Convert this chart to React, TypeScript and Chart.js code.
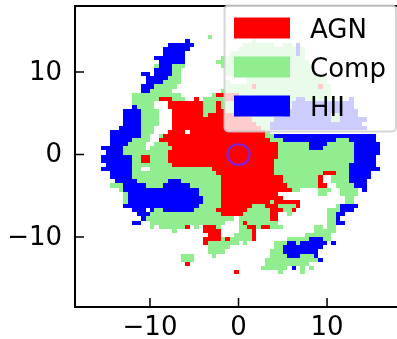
import React, { useEffect, useRef } from "react";
import { Chart, registerables } from "chart.js";

Chart.register(...registerables);

// Spaxel runs: [row, firstColumn, endColumn), one row/column = 0.5 axis units.
const agnRuns: number[][] = [
  [17,3,4],[17,18,19],[15,-5,0],[14,-18,-15],[14,-10,-9],[14,-3,0],[13,-16,-8],[13,-5,-4],[12,-16,-8],[12,-5,-4],
  [11,-15,-8],[11,-5,-3],[10,-15,-8],[10,-7,2],[9,-15,3],[8,-15,4],[7,-15,5],[6,-16,-12],[6,-11,6],[5,-17,6],
  [4,-18,7],[3,-16,9],[2,-15,9],[1,-16,9],[0,-22,-20],[0,-16,9],[-1,-22,-20],[-1,-16,8],[-2,-15,8],[-3,-6,8],
  [-4,-5,8],[-4,19,22],[-5,-4,10],[-5,18,19],[-6,-4,10],[-6,18,19],[-7,-4,11],[-7,18,20],[-8,-4,12],[-9,-4,9],
  [-10,-4,10],[-11,-4,7],[-11,8,14],[-12,-4,3],[-12,6,9],[-12,13,14],[-13,-5,2],[-13,7,10],[-13,12,13],[-14,-4,1],
  [-14,7,9],[-15,7,9],[-16,1,2],[-17,-12,-11],[-17,-8,-5],[-17,2,4],[-17,5,7],[-18,-8,-4],[-18,3,4],[-19,-7,-4],
  [-19,3,4],[-20,-8,-4],[-20,-3,-2],[-20,3,4],[-21,-8,-7],[-26,-12,-11],[-28,-1,0],
];
const compRuns: number[][] = [
  [29,-7,-6],[28,3,4],[27,1,8],[27,10,12],[26,0,13],[26,14,15],[25,-2,13],[25,14,15],[24,-4,15],[23,-5,16],
  [22,-19,-18],[22,-15,-12],[22,-4,17],[21,-15,-13],[21,-3,17],[20,-15,-13],[20,-3,18],[19,-16,-13],[19,2,20],
  [18,-17,-13],[18,-3,-2],[18,2,20],[17,-19,-14],[17,-3,3],[17,4,18],[17,19,21],[16,-20,-15],[16,-4,21],
  [15,-24,-13],[15,-6,-5],[15,0,21],[14,-24,-18],[14,-15,-12],[14,-8,-3],[14,0,13],[14,15,21],[13,-24,-19],
  [13,-8,-5],[13,-4,12],[12,-23,-19],[12,-8,-5],[12,-4,12],[11,-22,-18],[11,-8,-5],[11,-3,11],[10,-22,-18],
  [10,-8,-7],[10,2,10],[10,21,23],[9,-22,-18],[9,3,8],[9,21,23],[8,-22,-18],[8,4,7],[7,-22,-19],[7,5,7],
  [6,-22,-19],[6,6,7],[5,-22,-20],[5,-18,-17],[5,6,8],[4,-24,-20],[4,7,10],[4,22,25],[3,-25,-21],[3,-19,-16],
  [3,9,16],[3,20,26],[2,-26,-21],[2,-20,-15],[2,9,16],[2,19,26],[1,-26,-16],[1,9,26],[0,-24,-22],[0,-20,-16],
  [0,9,26],[-1,-24,-22],[-1,-20,-16],[-1,8,26],[-2,-24,-15],[-2,8,25],[-3,-24,-22],[-3,-20,-6],[-3,8,25],
  [-4,-24,-5],[-4,8,19],[-4,22,25],[-5,-24,-4],[-5,10,18],[-5,21,25],[-6,-23,-16],[-6,-13,-4],[-6,10,18],[-6,21,25],
  [-7,-29,-26],[-7,-21,-17],[-7,-11,-4],[-7,11,18],[-7,22,26],[-8,-27,-26],[-8,-9,-4],[-8,12,14],[-8,18,21],[-8,23,27],
  [-9,-26,-25],[-9,-9,-4],[-9,18,20],[-9,23,27],[-10,-26,-25],[-10,-8,-4],[-10,24,26],[-11,-26,-25],[-11,-8,-4],
  [-11,7,8],[-11,24,26],[-12,-9,-4],[-12,3,6],[-12,9,13],[-12,22,23],[-13,-19,-17],[-13,-10,-5],[-13,2,7],[-13,10,12],
  [-13,20,23],[-14,-20,-4],[-14,1,7],[-14,11,12],[-14,20,22],[-15,-21,-1],[-15,0,7],[-15,20,22],[-16,-20,-3],[-16,0,1],
  [-16,2,9],[-16,20,22],[-17,-20,-19],[-17,-18,-12],[-17,-10,-9],[-17,-5,-4],[-17,0,2],[-17,4,5],[-17,7,10],[-17,17,19],
  [-17,20,22],[-18,-15,-14],[-18,0,3],[-18,17,22],[-19,-1,3],[-19,15,21],[-20,-4,-3],[-20,-2,3],[-20,11,16],[-20,19,21],
  [-21,-7,0],[-21,1,2],[-21,8,11],[-21,13,14],[-22,-7,-2],[-22,8,10],[-23,-7,-3],[-23,7,10],[-24,-13,-10],[-24,-6,-5],
  [-24,7,11],[-24,14,17],[-25,-13,-10],[-25,6,18],[-26,6,16],[-27,5,11],[-27,14,15],[-27,16,17],[-28,9,10],[-28,14,15],
];
const hiiRuns: number[][] = [
  [28,-12,-11],[27,-16,-10],[27,13,14],[26,-17,-11],[26,13,14],[25,-17,-12],[25,13,14],[24,-19,-12],[23,-18,-12],
  [22,-18,-15],[21,-19,-15],[20,-22,-20],[20,-19,-15],[19,-21,-16],[18,-21,-17],[17,-22,-19],[16,-22,-20],[14,13,15],
  [14,25,26],[13,12,26],[12,-24,-23],[12,12,26],[11,-26,-22],[11,11,27],[10,-26,-22],[10,10,21],[10,23,27],[9,-26,-22],
  [9,8,21],[9,23,29],[8,-26,-22],[8,7,28],[7,-27,-22],[7,7,29],[6,-29,-22],[5,-29,-22],[5,8,31],[4,-29,-24],[4,10,22],
  [4,25,31],[3,-29,-25],[3,16,20],[3,26,32],[2,-31,-26],[2,16,19],[2,26,32],[1,-30,-26],[1,26,32],[0,-31,-24],[0,26,31],
  [-1,-31,-24],[-1,26,31],[-2,-30,-24],[-2,25,31],[-3,-31,-24],[-3,25,32],[-4,-29,-24],[-4,25,30],[-5,-29,-24],[-5,25,30],
  [-6,-28,-23],[-6,-16,-13],[-6,25,29],[-7,-26,-21],[-7,-17,-11],[-7,26,29],[-8,-26,-9],[-8,28,29],[-9,-25,-9],[-10,-25,-8],
  [-11,-25,-8],[-12,-26,-9],[-12,23,27],[-13,-24,-21],[-13,-20,-19],[-13,-17,-10],[-13,23,26],[-14,-23,-20],[-14,22,24],
  [-15,-22,-21],[-15,22,23],[-16,-24,-22],[-16,22,24],[-20,16,19],[-21,11,13],[-21,14,20],[-21,21,22],[-22,10,19],[-23,10,18],
  [-24,11,14],[-24,17,18],[-25,18,19],[-27,12,13],
];
const categories = ["AGN", "Comp", "HII"];
const categoryColors = ["#ff0000", "#90ee90", "#0000ff"];
const xTickValues = [-10, 0, 10];
const yTickValues = [-10, 0, 10];
const beamRadius = 1.25;

const toCells = (runs: number[][]) => {
  const cells: { x: number; y: number }[] = [];
  for (const [r, c0, c1] of runs) {
    for (let c = c0; c < c1; c++) cells.push({ x: c / 2, y: (r - 1) / 2 });
  }
  return cells;
};

const FONT = '"DejaVu Sans", sans-serif';

const mapPlugin = {
  id: "spaxelMap",
  beforeDatasetsDraw(chart: any) {
    const { ctx, scales } = chart;
    const { x, y } = scales;
    ctx.save();
    chart.data.datasets.forEach((ds: any) => {
      ctx.fillStyle = ds.backgroundColor;
      for (const p of ds.data) {
        const l = Math.round(x.getPixelForValue(p.x));
        const r = Math.round(x.getPixelForValue(p.x + 0.5));
        const t = Math.round(y.getPixelForValue(p.y + 0.5));
        const b = Math.round(y.getPixelForValue(p.y));
        ctx.fillRect(l, t, r - l, b - t);
      }
    });
    ctx.restore();
  },
  afterDraw(chart: any) {
    const { ctx, scales, chartArea } = chart;
    const { x, y } = scales;
    ctx.save();
    // beam circle
    ctx.strokeStyle = "#8420d8";
    ctx.lineWidth = 2.2;
    ctx.beginPath();
    const cx = x.getPixelForValue(0);
    const cy = y.getPixelForValue(0);
    ctx.ellipse(cx, cy, Math.abs(x.getPixelForValue(beamRadius) - cx), Math.abs(y.getPixelForValue(beamRadius) - cy), 0, 0, Math.PI * 2);
    ctx.stroke();
    // inward tick marks
    ctx.strokeStyle = "#000";
    ctx.lineWidth = 1.5;
    ctx.beginPath();
    for (const v of xTickValues) {
      const px = x.getPixelForValue(v);
      ctx.moveTo(px, chartArea.bottom);
      ctx.lineTo(px, chartArea.bottom - 9);
    }
    for (const v of yTickValues) {
      const py = y.getPixelForValue(v);
      ctx.moveTo(chartArea.left, py);
      ctx.lineTo(chartArea.left + 9, py);
    }
    ctx.stroke();
    // top spine
    ctx.strokeStyle = "#000";
    ctx.lineWidth = 2;
    ctx.beginPath();
    ctx.moveTo(chartArea.left - 1, chartArea.top);
    ctx.lineTo(chartArea.right, chartArea.top);
    ctx.stroke();
    // legend
    ctx.beginPath();
    ctx.roundRect(224.5, 5.5, 171.5, 126, 4);
    ctx.fillStyle = "rgba(255,255,255,0.8)";
    ctx.fill();
    ctx.strokeStyle = "rgba(204,204,204,0.8)";
    ctx.lineWidth = 2;
    ctx.stroke();
    ctx.font = `26px ${FONT}`;
    ctx.textBaseline = "alphabetic";
    ctx.textAlign = "left";
    chart.data.datasets.forEach((ds: any, i: number) => {
      const top = 17.5 + i * 39;
      ctx.fillStyle = ds.backgroundColor;
      ctx.fillRect(234, top, 56, 21);
      ctx.fillStyle = "#000";
      ctx.fillText(ds.label, 310, top + 20);
    });
    ctx.restore();
  },
};

export default function App() {
  const ref = useRef<HTMLCanvasElement>(null);
  useEffect(() => {
    const runs = [agnRuns, compRuns, hiiRuns];
    const tickFmt = (v: any) => String(v).replace("-", "\u2212");
    const chart = new Chart(ref.current as HTMLCanvasElement, {
      type: "scatter",
      data: {
        datasets: categories.map((label, i) => ({
          label,
          data: toCells(runs[i]),
          backgroundColor: categoryColors[i],
          pointRadius: 0,
        })),
      },
      options: {
        responsive: false,
        animation: false,
        devicePixelRatio: 1,
        layout: { padding: { top: 6, left: 0, right: 0, bottom: 0 } },
        plugins: { legend: { display: false }, tooltip: { enabled: false } },
        scales: {
          x: {
            type: "linear",
            min: -18.47,
            max: 17.9,
            afterBuildTicks: (s: any) => { s.ticks = xTickValues.map((value) => ({ value })); },
            afterFit: (s: any) => { s.height = 32; s.paddingLeft = 0; s.paddingRight = 0; },
            border: { color: "#000", width: 2 },
            grid: { display: false },
            ticks: { color: "#000", font: { size: 26, family: FONT }, padding: -2, maxRotation: 0, callback: tickFmt },
          },
          y: {
            type: "linear",
            min: -18.47,
            max: 18.0,
            afterBuildTicks: (s: any) => { s.ticks = yTickValues.map((value) => ({ value })); },
            afterFit: (s: any) => { s.width = 75; s.paddingTop = 0; s.paddingBottom = 0; },
            border: { color: "#000", width: 2 },
            grid: { display: false },
            ticks: { color: "#000", font: { size: 26, family: FONT }, padding: 5, labelOffset: 1, callback: tickFmt },
          },
        },
      },
      plugins: [mapPlugin],
    } as any);
    return () => chart.destroy();
  }, []);
  return (
    <div style={{ position: "fixed", left: 0, top: 0, width: 397, height: 339, background: "#fff" }}>
      <canvas ref={ref} width={397} height={339} style={{ display: "block" }} />
    </div>
  );
}
